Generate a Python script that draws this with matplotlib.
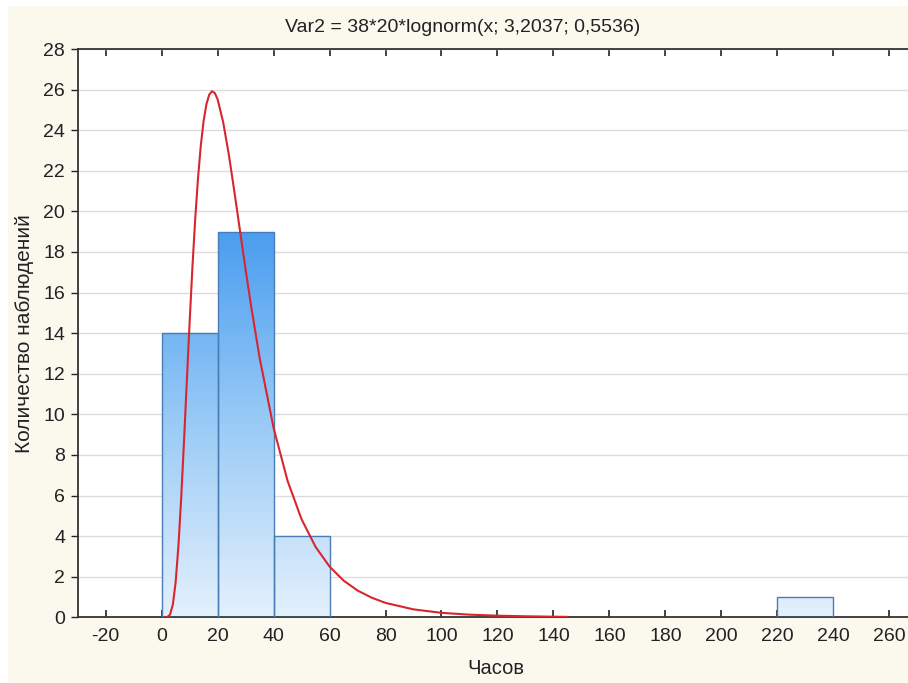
import matplotlib
matplotlib.use('Agg')
import matplotlib.pyplot as plt
import numpy as np
from matplotlib.colors import LinearSegmentedColormap
from matplotlib.patches import Rectangle

# данные гистограммы
bin_left = [0, 20, 40, 220]
bin_width = 20
counts = [14, 19, 4, 1]

# кривая
curve_x = [1, 2, 3, 4, 5, 6, 7, 8, 9, 10, 11, 12, 13, 14, 15, 16, 17, 18, 19, 20,
           22, 24, 26, 28, 30, 32, 35, 40, 45, 50, 55, 60, 65, 70, 75, 80, 90,
           100, 110, 120, 130, 140, 145]
curve_y = [0.0, 0.01, 0.13, 0.63, 1.73, 3.53, 5.92, 8.71, 11.65, 14.56, 17.26,
           19.65, 21.65, 23.26, 24.46, 25.28, 25.75, 25.92, 25.83, 25.52,
           24.38, 22.80, 20.96, 19.04, 17.13, 15.30, 12.79, 9.33, 6.72, 4.83,
           3.47, 2.50, 1.81, 1.32, 0.97, 0.71, 0.39, 0.22, 0.13, 0.08, 0.05,
           0.03, 0.02]

xticks = list(range(-20, 261, 20))
yticks = list(range(0, 29, 2))

plt.rcParams['font.family'] = ['Liberation Sans', 'DejaVu Sans']
plt.rcParams['axes.unicode_minus'] = False

fig = plt.figure(figsize=(9.08, 6.83), dpi=100)
fig.patch.set_facecolor('white')
fig.patches.append(Rectangle((8/908, 0), 1, 1 - 6/683, transform=fig.transFigure,
                             facecolor='#FBF8EE', edgecolor='none', zorder=-10))

ax = fig.add_axes([77.7/908, (683-617.3)/683, (908-77.7)/908, (617.3-49)/683])
ax.set_facecolor('white')

cmap = LinearSegmentedColormap.from_list('bars', ['#E4F0FC', '#9ACBF6', '#4A9DF0'])
grad = np.linspace(0, 1, 256).reshape(-1, 1)

bars = ax.bar(bin_left, counts, width=bin_width, align='edge',
              facecolor='none', edgecolor='#4A7DB5', linewidth=1.0, zorder=3)
for b in bars:
    x0, h = b.get_x(), b.get_height()
    im = ax.imshow(grad, cmap=cmap, origin='lower', aspect='auto',
                   extent=(x0, x0 + bin_width, 0, 19), zorder=2)
    clip = Rectangle((x0, 0), bin_width, h, transform=ax.transData)
    im.set_clip_path(clip)

ax.plot(curve_x, curve_y, color='#D8262F', linewidth=1.5, zorder=4)

ax.set_xlim(-30, 266.7)
ax.set_ylim(0, 28)
ax.set_xticks(xticks)
ax.set_yticks(yticks)
ax.yaxis.grid(True, color='#DCDCDC', linewidth=1.0, zorder=0)
ax.set_axisbelow(True)

ax.tick_params(axis='x', direction='in', top=True, length=5, width=1.2,
               labelsize=14, pad=8, colors='#222222')
ax.tick_params(axis='y', direction='out', length=5, width=1.0,
               labelsize=14, pad=4, colors='#222222')
ax.spines['right'].set_visible(False)
for s in ['left', 'bottom', 'top']:
    ax.spines[s].set_linewidth(1.3)
    ax.spines[s].set_color('#333333')

fig.text(463/908, 1 - 27/683, 'Var2 = 38*20*lognorm(x; 3,2037; 0,5536)',
         ha='center', va='center', fontsize=14, color='#222222')
fig.text(496/908, 1 - 668/683, 'Часов', ha='center', va='center',
         fontsize=14.5, color='#222222')
fig.text(25/908, 1 - 334/683, 'Количество наблюдений', ha='center', va='center',
         rotation=90, fontsize=15, color='#222222')

fig.savefig('out.png', dpi=100)
